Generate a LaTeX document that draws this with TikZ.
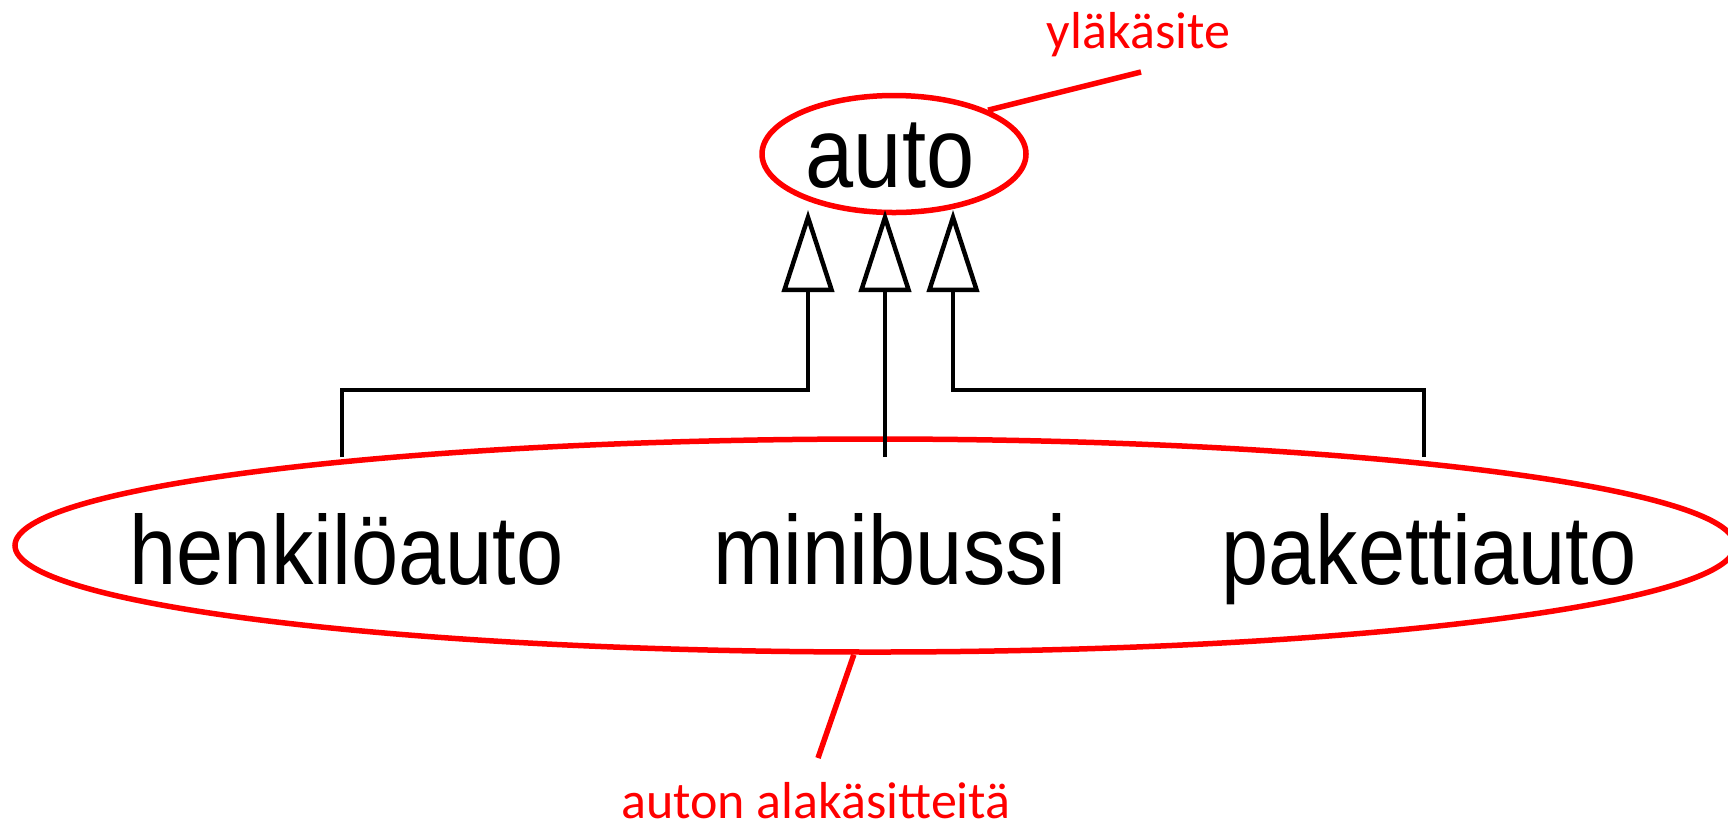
\documentclass[tikz,border=0pt]{standalone}
\usepackage{fontspec}
\newfontfamily\narrowsans{Liberation Sans}[FakeStretch=0.865]
\newfontfamily\notefont{Carlito}
\usetikzlibrary{shapes.geometric,arrows.meta}
\definecolor{notered}{RGB}{255,0,0}
\begin{document}
\begin{tikzpicture}[x=0.5pt,y=-0.5pt,
  concept/.style={font=\narrowsans\fontsize{49pt}{55pt}\selectfont, inner sep=0pt, anchor=base},
  note/.style={font=\notefont\fontsize{26pt}{30pt}\selectfont, text=notered, inner sep=0pt, anchor=base},
  ring/.style={ellipse, draw=notered, line width=2.75pt, inner sep=0pt},
  pointer/.style={draw=notered, line width=2.75pt},
  isa/.style={draw=black, line width=2.25pt, -{Triangle[open, length=41pt, width=26pt]}}
]
\clip (0,0) rectangle (1728,821);
\fill[white] (0,0) rectangle (1728,821);
% rings
\node[ring, minimum width=132pt, minimum height=58.5pt] (autoring) at (894,154) {};
\node[ring, minimum width=860pt, minimum height=106.5pt] (subring) at (875,545.5) {};
% texts
\node[concept, font=\narrowsans\fontsize{50pt}{55pt}\selectfont] (auto) at (890,187) {auto};
\node[concept] (henk) at (346.5,584) {henkilöauto};
\node[concept] (mini) at (890,584) {minibussi};
\node[concept] (pak) at (1429,584) {pakettiauto};
\node[note] (ylak) at (1138.5,48) {yläkäsite};
\node[note] (alak) at (816,818) {auton alakäsitteitä};
% pointers
\coordinate (suptip) at (1141,72);
\coordinate (subtip) at (818,758);
\draw[pointer] (autoring.25) -- (suptip);
\draw[pointer] (subring.259.4) -- (subtip);
% generalisation connectors
\coordinate (hb) at (342,457);
\coordinate (mb) at (885,457);
\coordinate (pb) at (1424,457);
\coordinate (ht) at (808,210);
\coordinate (mt) at (885,210);
\coordinate (pt) at (953,210);
\draw[isa] (hb) -- (342,390) -| (ht);
\draw[isa] (mb) -- (mt);
\draw[isa] (pb) -- (1424,390) -| (pt);
\end{tikzpicture}
\end{document}
